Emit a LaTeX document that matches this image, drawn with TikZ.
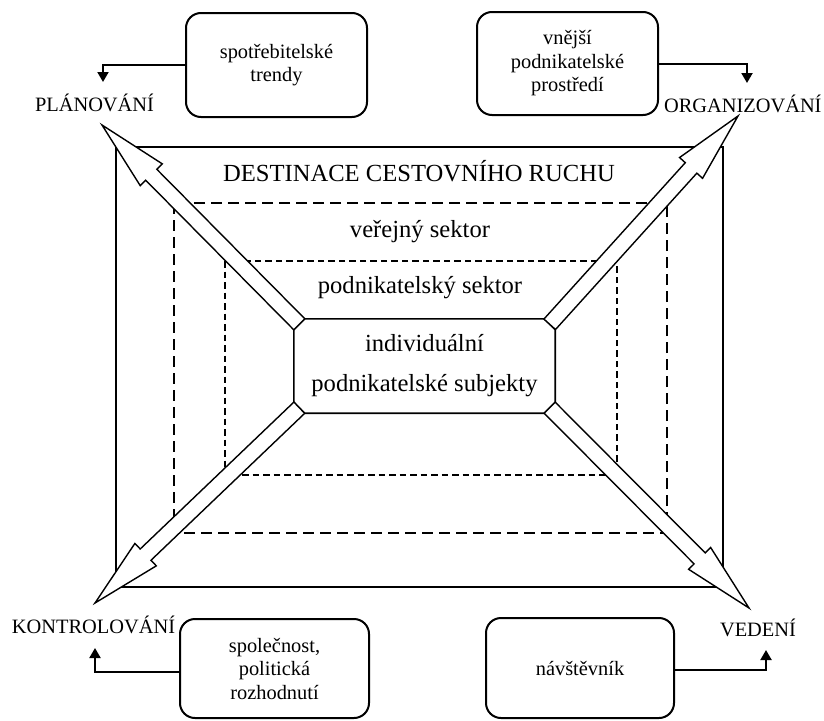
\documentclass[tikz,border=0pt]{standalone}
\usepackage{fontspec}
\setmainfont{Liberation Serif}
\usetikzlibrary{calc,arrows.meta}

% block arrow from #1 (base centre) to #2 (tip)
\newcommand\blockarrow[2]{%
  \coordinate (#1-#2-b) at ($(#2)!70pt!(#1)$);
  \draw[bigarrow]
    ($(#1)!7.8pt!90:(#2)$) --
    ($(#1-#2-b)!7.8pt!90:(#2)$) --
    ($(#1-#2-b)!15.5pt!90:(#2)$) --
    (#2) --
    ($(#1-#2-b)!15.5pt!-90:(#2)$) --
    ($(#1-#2-b)!7.8pt!-90:(#2)$) --
    ($(#1)!7.8pt!-90:(#2)$) -- cycle;}

\begin{document}
\begin{tikzpicture}[x=1pt,y=-1pt,
  frame/.style={draw,line width=1.6pt},
  ringA/.style={draw,line width=1.5pt,dash pattern=on 11pt off 6pt},
  ringB/.style={draw,line width=1.3pt,dash pattern=on 6.5pt off 4pt},
  bigarrow/.style={draw,fill=white,line width=1.4pt,line join=miter},
  factor/.style={draw,line width=2pt,rounded corners=15pt,align=center,
    font=\fontsize{20.4}{23.5}\selectfont,inner sep=0pt},
  func/.style={font=\fontsize{20.4}{24}\selectfont,anchor=base,inner sep=0pt},
  layer/.style={font=\fontsize{24.6}{30}\selectfont,anchor=base,inner sep=0pt},
  feed/.style={line width=2pt,-{Triangle[width=11pt,length=10pt]}},
]
\fill[white] (0,0) rectangle (824,720);
\useasboundingbox (0,0) rectangle (824,720);

% nested layers of the destination
\draw[frame] (116,147) rectangle (723,587);
\draw[ringA] (174,203) rectangle (667,533);
\draw[ringB] (225,261) rectangle (617,475);

\node[layer] (dest) at (419,181) {DESTINACE CESTOVNÍHO RUCHU};
\node[layer] (pub)  at (420,237) {veřejný sektor};
\node[layer] (biz)  at (420,293) {podnikatelský sektor};

% core: individual businesses
\node[minimum width=261pt,minimum height=94pt,inner sep=0pt,align=center,
      font=\fontsize{24.6}{40}\selectfont] (core) at (424.5,366)
      {individuální\\podnikatelské subjekty};
\draw[line width=1.6pt]
  ([xshift=11pt]core.north west) -- ([xshift=-11pt]core.north east) --
  ([yshift=-11pt]core.north east) -- ([yshift=11pt]core.south east) --
  ([xshift=-11pt]core.south east) -- ([xshift=11pt]core.south west) --
  ([yshift=11pt]core.south west) -- ([yshift=-11pt]core.north west) -- cycle;

\coordinate (cNW) at ([shift={(5.5pt,-5.5pt)}]core.north west);
\coordinate (cNE) at ([shift={(-5.5pt,-5.5pt)}]core.north east);
\coordinate (cSW) at ([shift={(5.5pt,5.5pt)}]core.south west);
\coordinate (cSE) at ([shift={(-5.5pt,5.5pt)}]core.south east);

% management functions
\node[func] (plan) at (94.5,111) {PLÁNOVÁNÍ};
\node[func] (org)  at (742.8,112) {ORGANIZOVÁNÍ};
\node[func] (ctrl) at (93.5,633) {KONTROLOVÁNÍ};
\node[func] (lead) at (758,636) {VEDENÍ};

\coordinate (tPL) at (102,125);
\coordinate (tOR) at (738,116);
\coordinate (tKO) at (95,603);
\coordinate (tVE) at (749,608);

\blockarrow{cNW}{tPL}
\blockarrow{cNE}{tOR}
\blockarrow{cSW}{tKO}
\blockarrow{cSE}{tVE}

% external factors
\node[factor,minimum width=181pt,minimum height=104pt] (trend) at (276.5,65)
  {spotřebitelské\\trendy};
\node[factor,minimum width=181pt,minimum height=103pt] (env) at (567.5,63.5)
  {vnější\\podnikatelské\\prostředí};
\node[factor,minimum width=189pt,minimum height=99pt] (soc) at (274.5,668.5)
  {společnost,\\politická\\rozhodnutí};
\node[factor,minimum width=188pt,minimum height=100pt] (vis) at (580,668)
  {návštěvník};

\coordinate (inPL) at (103,82);
\coordinate (inOR) at (747,83);
\coordinate (inKO) at (95,648);
\coordinate (inVE) at (766,650);

\draw[feed] (trend.west) -| (inPL);
\draw[feed] (env.east) -| (inOR);
\draw[feed] ([yshift=-3.5pt]soc.west) -| (inKO);
\draw[feed] ([yshift=-2pt]vis.east) -| (inVE);
\end{tikzpicture}
\end{document}
